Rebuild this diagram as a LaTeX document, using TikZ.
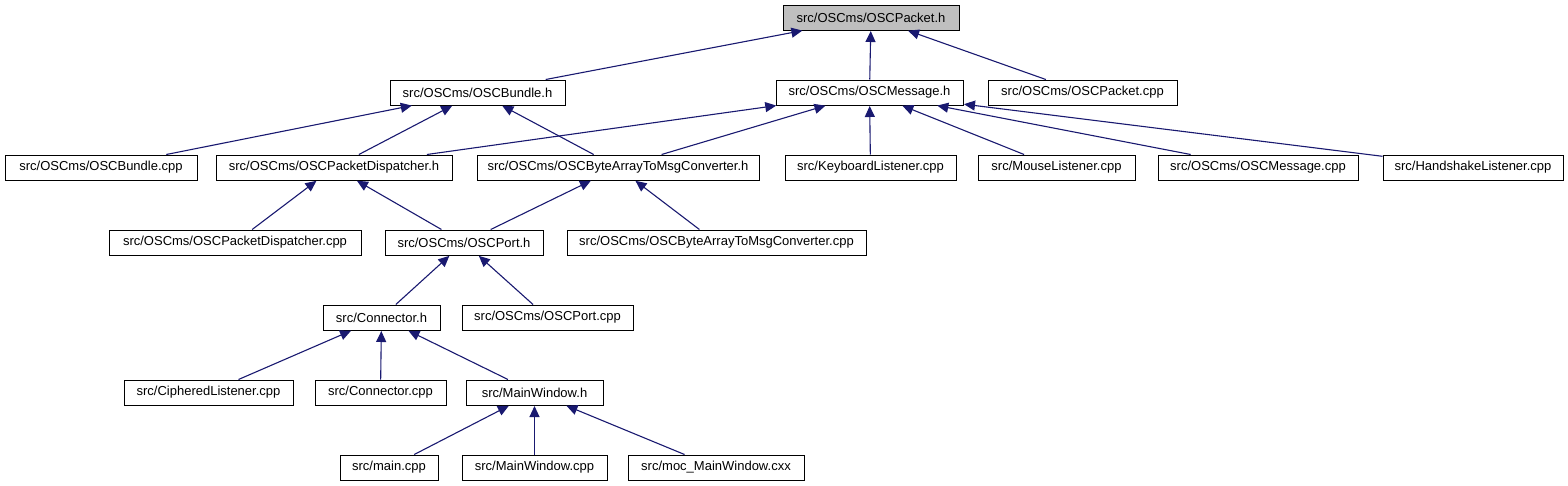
\documentclass[tikz,border=0pt]{standalone}
\usepackage{fontspec}
\setmainfont{Liberation Sans}
\usetikzlibrary{arrows.meta}
\definecolor{edgeblue}{HTML}{191970}
\definecolor{rootgray}{HTML}{BFBFBF}
\tikzset{
  filebox/.style={draw=black, line width=1pt, fill=white, inner sep=0pt,
    minimum height=25pt, font=\fontsize{13}{15}\selectfont},
  rootbox/.style={filebox, fill=rootgray},
  dep/.style={draw=edgeblue, line width=1.1pt, -{Triangle[length=11pt,width=10pt]}, shorten >=0.5pt},
}
\newcommand{\fbx}[6][filebox]{%
  \node[#1, minimum width={(#4-#3)*1pt}] (#2) at ({(#3+#4)/2},#5) {#6};}
\begin{document}
\begin{tikzpicture}[x=1pt,y=-1pt]
\useasboundingbox (0,0) rectangle (1568,485);
% row 0
\fbx[rootbox]{pkth}{783}{959}{17.5}{src/OSCms/OSCPacket.h}
% row 1
\fbx{bndh}{390}{565}{92.5}{src/OSCms/OSCBundle.h}
\fbx{msgh}{776}{963}{92.5}{src/OSCms/OSCMessage.h}
\fbx{pktcpp}{988}{1177}{92.5}{src/OSCms/OSCPacket.cpp}
% row 2
\fbx{bndcpp}{5}{197}{167.5}{src/OSCms/OSCBundle.cpp}
\fbx{dsph}{216}{452}{167.5}{src/OSCms/OSCPacketDispatcher.h}
\fbx{convh}{477}{759}{167.5}{src/OSCms/OSCByteArrayToMsgConverter.h}
\fbx{kbd}{785}{956}{167.5}{src/KeyboardListener.cpp}
\fbx{mouse}{978}{1135}{167.5}{src/MouseListener.cpp}
\fbx{msgcpp}{1158}{1358}{167.5}{src/OSCms/OSCMessage.cpp}
\fbx{hand}{1383}{1563}{167.5}{src/HandshakeListener.cpp}
% row 3
\fbx{dspcpp}{109}{361}{242.5}{src/OSCms/OSCPacketDispatcher.cpp}
\fbx{porth}{385}{543}{242.5}{src/OSCms/OSCPort.h}
\fbx{convcpp}{567}{866}{242.5}{src/OSCms/OSCByteArrayToMsgConverter.cpp}
% row 4
\fbx{conh}{323}{440}{317.5}{src/Connector.h}
\fbx{portcpp}{462}{633}{317.5}{src/OSCms/OSCPort.cpp}
% row 5
\fbx{ciph}{124}{293}{392.5}{src/CipheredListener.cpp}
\fbx{concpp}{315}{446}{392.5}{src/Connector.cpp}
\fbx{mwh}{466}{603}{392.5}{src/MainWindow.h}
% row 6
\fbx{maincpp}{340}{438}{467.5}{src/main.cpp}
\fbx{mwcpp}{462}{607}{467.5}{src/MainWindow.cpp}
\fbx{moc}{628}{804}{467.5}{src/moc\_MainWindow.cxx}
% edges (arrow at the included file)
\draw[dep] (bndh) -- (pkth);
\draw[dep] (msgh) -- (pkth);
\draw[dep] (pktcpp) -- (pkth);
\draw[dep] (bndcpp) -- (bndh);
\draw[dep] (dsph) -- (bndh);
\draw[dep] (convh) -- (bndh);
\draw[dep] (dsph) -- (msgh);
\draw[dep] (convh) -- (msgh);
\draw[dep] (kbd) -- (msgh);
\draw[dep] (mouse) -- (msgh);
\draw[dep] (msgcpp) -- (msgh);
\draw[dep] (hand) -- (msgh);
\draw[dep] (dspcpp) -- (dsph);
\draw[dep] (porth) -- (dsph);
\draw[dep] (porth) -- (convh);
\draw[dep] (convcpp) -- (convh);
\draw[dep] (conh) -- (porth);
\draw[dep] (portcpp) -- (porth);
\draw[dep] (ciph) -- (conh);
\draw[dep] (concpp) -- (conh);
\draw[dep] (mwh) -- (conh);
\draw[dep] (maincpp) -- (mwh);
\draw[dep] (mwcpp) -- (mwh);
\draw[dep] (moc) -- (mwh);
\end{tikzpicture}
\end{document}
